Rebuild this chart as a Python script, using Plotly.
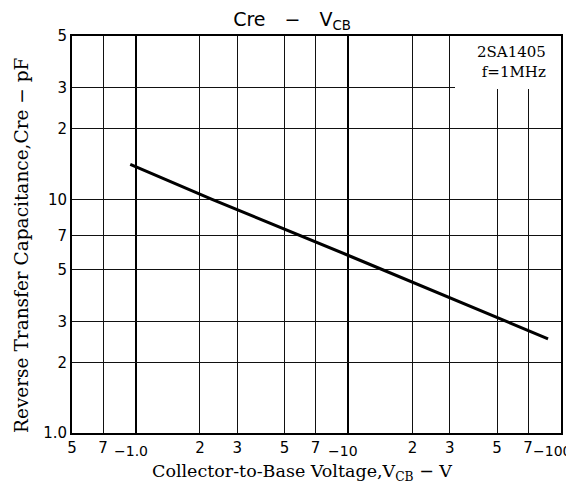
import numpy as np
import plotly.graph_objects as go

# data (magnitudes; voltages are negative)
vcb = [0.94, 2.28, 10.0, 86.9]
cre = [14.1, 10.0, 5.75, 2.53]

x_ticks = [0.5, 0.7, 2, 3, 5, 7, 20, 30, 50, 70]
x_text = ["5", "7", "2", "3", "5", "7", "2", "3", "5", "7"]
x_decades = [1, 10, 100]
x_decade_text = ["\u22121.0", "\u221210", "\u2212100"]

y_ticks = [1, 2, 3, 5, 7, 10, 20, 30, 50]
y_text = ["1.0", "2", "3", "5", "7", "10", "2", "3", "5"]

serif = "DejaVu Serif"
sans = "DejaVu Sans"

# the page body has an 8px margin, so the figure is drawn 8px in
OFF = 8
W, H = 574 - OFF, 490 - OFF
PL, PT, PR, PB = 72, 36, 561, 433  # plot box in page pixels
PW, PH = PR - PL, PB - PT

fig = go.Figure()
fig.add_trace(go.Scatter(x=vcb, y=cre, mode="lines",
                         line=dict(color="black", width=3), showlegend=False,
                         hoverinfo="skip"))

common = dict(showline=True, linecolor="black", linewidth=2, mirror=True,
              ticks="", zeroline=False)

fig.update_xaxes(type="log", range=[np.log10(0.5), 2], tickmode="array",
                 tickvals=x_ticks, ticktext=x_text,
                 showgrid=True, gridcolor="#111", gridwidth=1.3,
                 minor=dict(tickvals=x_decades, showgrid=True,
                            gridcolor="black", gridwidth=2.2, ticks=""),
                 tickfont=dict(family=sans, size=15, color="black"),
                 **common)
fig.update_yaxes(type="log", range=[0, np.log10(50)], tickmode="array",
                 tickvals=y_ticks, ticktext=y_text,
                 showgrid=True, gridcolor="#111", gridwidth=1.4,
                 tickfont=dict(family=sans, size=15, color="black"),
                 **common)

annotations = []
for v, t in zip(x_decades, x_decade_text):
    last = v == x_decades[-1]
    annotations.append(dict(x=np.log10(v), y=0, xref="x", yref="paper",
                            text=t, showarrow=False,
                            xanchor="right" if last else "center",
                            yanchor="top", xshift=12 if last else -5,
                            yshift=-8,
                            font=dict(family=sans, size=14, color="black")))
# axis titles placed where the reference has them
annotations.append(dict(x=(302 - PL) / PW, y=0, xref="paper", yref="paper",
                        text="Collector-to-Base Voltage,V<sub>CB</sub> \u2212 V",
                        showarrow=False, xanchor="center", yanchor="middle",
                        yshift=-(472 - PB),
                        font=dict(family=serif, size=17.5, color="black")))
annotations.append(dict(x=0, y=(PB - 245) / PH, xref="paper", yref="paper",
                        text="Reverse Transfer Capacitance,Cre \u2212 pF",
                        showarrow=False, textangle=-90,
                        xanchor="center", yanchor="middle",
                        xshift=-(PL - 21),
                        font=dict(family=serif, size=18.5, color="black")))
annotations.append(dict(x=1, y=1, xref="paper", yref="paper",
                        text="2SA1405<br>f=1MHz", showarrow=False,
                        xanchor="right", yanchor="top", align="right",
                        xshift=-13, yshift=-5,
                        font=dict(family=serif, size=15, color="black")))

shapes = [dict(type="rect", xref="paper", yref="paper",
               x0=(455 - PL) / PW, x1=1, y0=(PB - 89) / PH, y1=1,
               fillcolor="white", line=dict(width=0), layer="above")]

fig.update_layout(width=W, height=H,
                  margin=dict(l=PL - OFF, r=574 - PR, t=PT - OFF, b=490 - PB),
                  paper_bgcolor="white", plot_bgcolor="white",
                  title=dict(text="Cre\u2002\u2002\u2212\u2002\u2002V<sub>CB</sub>",
                             x=(292 - OFF) / W, xref="container", xanchor="center",
                             y=1 - (19 - OFF) / H, yref="container", yanchor="middle",
                             font=dict(family=sans, size=19, color="black")),
                  shapes=shapes,
                  annotations=annotations)

fig.write_html("out.html")
